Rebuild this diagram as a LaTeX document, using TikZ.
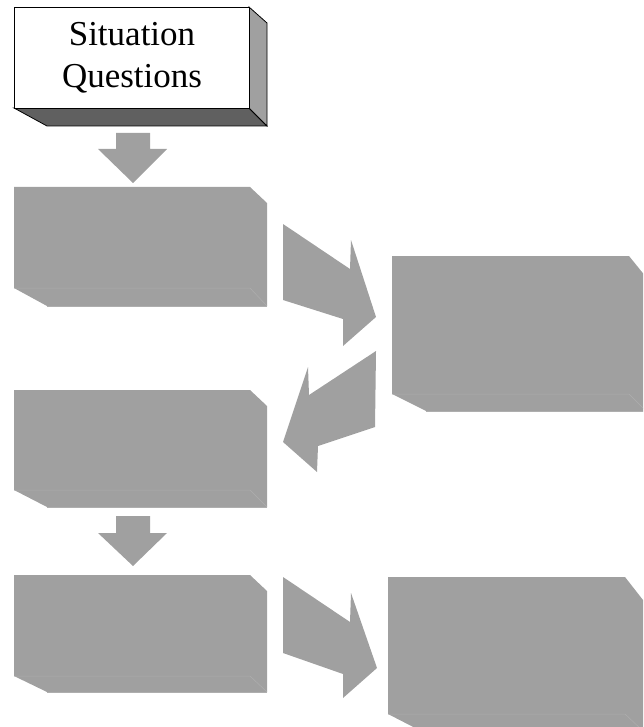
\documentclass[tikz,border=0pt]{standalone}
\usepackage{fontspec}
\setmainfont{Liberation Serif}
\definecolor{boxgray}{HTML}{A0A0A0}
\definecolor{edgegray}{HTML}{AEAEAE}
\definecolor{sidegray}{HTML}{A0A0A0}
\definecolor{darkface}{HTML}{606060}
\tikzset{
  fillshape/.style={fill=boxgray, draw=none},
  faintedge/.style={draw=edgegray, line width=0.5pt},
  frontface/.style={fill=white, draw=black, line width=0.8pt},
  sideface/.style={fill=sidegray, draw=black, line width=0.8pt},
  bottomface/.style={fill=darkface, draw=black, line width=0.8pt},
}
% gray bevel box: front (x1,y1)-(x2,y2), side to xr (top at ys), bottom at yb, bottom-left at xb
\newcommand\mygbox[8]{%
  \fill[fillshape] (#1,#2) -- (#3,#2) -- (#5,#6) -- (#5,#7) -- (#8,#7) -- (#1,#4) -- cycle;
  \draw[faintedge] (#1,#4) -- (#3,#4) -- (#5,#7);
  \draw[faintedge] (#8,#7) -- (#5,#7);
}
\begin{document}
\begin{tikzpicture}[x=1pt,y=-1pt]
\useasboundingbox (0,0) rectangle (643,727);
\clip (0,0) rectangle (643,727);

% top 3D box
\draw[bottomface] (14,108) -- (249,108) -- (267,126) -- (47,126) -- cycle;
\draw[sideface] (249,7) -- (267,23) -- (267,126) -- (249,108) -- cycle;
\draw[frontface] (14,7) rectangle (249,108);
\node[font=\fontsize{35}{42}\selectfont, align=center, inner sep=0pt] (sq) at (132,58) {Situation\\Questions};

% gray boxes
\mygbox{14}{187}{250}{288}{267}{203}{306}{47}
\mygbox{392}{256}{629}{394}{646}{277}{411}{426}
\mygbox{14}{390}{250}{490}{267}{406}{507}{47}
\mygbox{14}{575}{250}{676}{267}{591}{692}{47}
\mygbox{388}{577}{625}{714}{643}{600}{731}{421}

% down arrows
\fill[fillshape] (116,133) -- (150,133) -- (150,149) -- (167,149) -- (133,183) -- (98,149) -- (116,149) -- cycle;
\fill[fillshape] (116,516) -- (150,516) -- (150,533) -- (167,533) -- (133,566) -- (98,533) -- (116,533) -- cycle;

% diagonal block arrows
\fill[fillshape] (283,224) -- (350,269) -- (351,240) -- (376,317) -- (343,346) -- (343,319) -- (283,300) -- cycle;
\fill[fillshape] (376,351) -- (309,395) -- (308,367) -- (283,442) -- (317,472) -- (318,446) -- (375,427) -- cycle;
\fill[fillshape] (283,577) -- (350,622) -- (351,593) -- (377,668) -- (343,698) -- (343,674) -- (283,653) -- cycle;
\end{tikzpicture}
\end{document}
